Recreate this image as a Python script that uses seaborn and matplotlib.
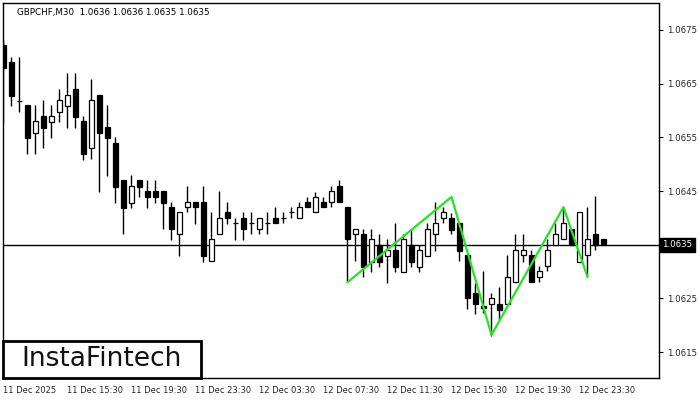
import matplotlib
matplotlib.use("Agg")
import matplotlib.pyplot as plt
import matplotlib.transforms as mtransforms
from matplotlib.patches import Rectangle
import numpy as np
import pandas as pd
import seaborn as sns

# GBPCHF M30 bars (oldest first)
opens = [1.06722, 1.06690, 1.06618, 1.06610, 1.06558, 1.06590, 1.06579, 1.06597,
         1.06608, 1.06640, 1.06580, 1.06530, 1.06629, 1.06569, 1.06539, 1.06470,
         1.06428, 1.06470, 1.06450, 1.06450, 1.06450, 1.06420, 1.06370, 1.06420,
         1.06430, 1.06430, 1.06320, 1.06370, 1.06411, 1.06390, 1.06400, 1.06390,
         1.06379, 1.06390, 1.06400, 1.06400, 1.06411, 1.06400, 1.06430, 1.06411,
         1.06430, 1.06430, 1.06459, 1.06420, 1.06370, 1.06370, 1.06318, 1.06349,
         1.06329, 1.06340, 1.06299, 1.06349, 1.06308, 1.06329, 1.06370, 1.06400,
         1.06400, 1.06390, 1.06331, 1.06260, 1.06235, 1.06239, 1.06239, 1.06239,
         1.06280, 1.06331, 1.06331, 1.06290, 1.06310, 1.06349, 1.06361, 1.06379,
         1.06318, 1.06331, 1.06370, 1.06361]
highs = [1.06731, 1.06700, 1.06700, 1.06610, 1.06610, 1.06620, 1.06610, 1.06640,
         1.06670, 1.06670, 1.06590, 1.06659, 1.06629, 1.06610, 1.06551, 1.06470,
         1.06480, 1.06470, 1.06470, 1.06470, 1.06450, 1.06430, 1.06411, 1.06459,
         1.06430, 1.06459, 1.06411, 1.06450, 1.06430, 1.06400, 1.06411, 1.06411,
         1.06400, 1.06411, 1.06420, 1.06411, 1.06420, 1.06430, 1.06439, 1.06448,
         1.06439, 1.06459, 1.06470, 1.06420, 1.06379, 1.06379, 1.06379, 1.06370,
         1.06361, 1.06390, 1.06370, 1.06379, 1.06349, 1.06390, 1.06430, 1.06420,
         1.06409, 1.06390, 1.06331, 1.06279, 1.06301, 1.06260, 1.06271, 1.06331,
         1.06370, 1.06370, 1.06340, 1.06310, 1.06361, 1.06390, 1.06420, 1.06379,
         1.06411, 1.06420, 1.06441, 1.06361]
lows = [1.06579, 1.06608, 1.06597, 1.06519, 1.06519, 1.06530, 1.06549, 1.06579,
        1.06567, 1.06567, 1.06508, 1.06510, 1.06448, 1.06478, 1.06428, 1.06370,
        1.06418, 1.06439, 1.06418, 1.06428, 1.06379, 1.06359, 1.06329, 1.06411,
        1.06388, 1.06318, 1.06320, 1.06370, 1.06388, 1.06359, 1.06359, 1.06370,
        1.06370, 1.06370, 1.06390, 1.06390, 1.06400, 1.06400, 1.06420, 1.06411,
        1.06420, 1.06420, 1.06430, 1.06280, 1.06320, 1.06290, 1.06299, 1.06308,
        1.06279, 1.06299, 1.06299, 1.06308, 1.06299, 1.06329, 1.06338, 1.06390,
        1.06370, 1.06320, 1.06230, 1.06221, 1.06223, 1.06180, 1.06210, 1.06239,
        1.06280, 1.06318, 1.06280, 1.06280, 1.06301, 1.06349, 1.06361, 1.06349,
        1.06318, 1.06290, 1.06340, 1.06349]
closes = [1.06679, 1.06627, 1.06618, 1.06549, 1.06580, 1.06567, 1.06590, 1.06620,
          1.06629, 1.06588, 1.06519, 1.06620, 1.06558, 1.06549, 1.06457, 1.06418,
          1.06459, 1.06457, 1.06439, 1.06439, 1.06428, 1.06379, 1.06411, 1.06430,
          1.06420, 1.06329, 1.06361, 1.06400, 1.06400, 1.06390, 1.06379, 1.06390,
          1.06400, 1.06390, 1.06390, 1.06400, 1.06411, 1.06420, 1.06420, 1.06439,
          1.06420, 1.06450, 1.06430, 1.06361, 1.06379, 1.06308, 1.06361, 1.06318,
          1.06340, 1.06308, 1.06361, 1.06318, 1.06340, 1.06379, 1.06390, 1.06411,
          1.06377, 1.06338, 1.06251, 1.06239, 1.06232, 1.06251, 1.06228, 1.06290,
          1.06340, 1.06340, 1.06280, 1.06301, 1.06340, 1.06370, 1.06390, 1.06349,
          1.06411, 1.06361, 1.06349, 1.06350]

# time axis labels (every 8th bar)
tick_bars = [0, 8, 16, 24, 32, 40, 48, 56, 64, 72]
tick_labels = ["11 Dec 2025", "11 Dec 15:30", "11 Dec 19:30", "11 Dec 23:30",
               "12 Dec 03:30", "12 Dec 07:30", "12 Dec 11:30", "12 Dec 15:30",
               "12 Dec 19:30", "12 Dec 23:30"]
price_ticks = [1.0615, 1.0625, 1.0635, 1.0645, 1.0655, 1.0665, 1.0675]

# green pattern (triple top) pivots
pattern_bars = [43, 56, 61, 70, 73]
pattern_prices = [1.06280, 1.06439, 1.06182, 1.06420, 1.06290]

last_price = 1.0635
title_text = "GBPCHF,M30  1.0636 1.0636 1.0635 1.0635"

df = pd.DataFrame({"open": opens, "high": highs, "low": lows, "close": closes})
df["bar"] = np.arange(len(df))
pat = pd.DataFrame({"bar": pattern_bars, "price": pattern_prices})

sns.set_style("white")
plt.rcParams["font.family"] = ["DejaVu Sans"]

fig = plt.figure(figsize=(7, 4), dpi=100)
ax = fig.add_axes([3 / 700, 22 / 400, 656 / 700, 375 / 400])

up = df[df.close >= df.open]
down = df[df.close < df.open]

ax.vlines(df.bar, df.low, df.high, color="black", lw=1, zorder=2)
body_w = 0.55
ax.bar(up.bar, np.maximum(up.close - up.open, 0.000002), bottom=up.open,
       width=body_w, color="white", edgecolor="black", lw=0.9, zorder=3)
ax.bar(down.bar, down.open - down.close, bottom=down.close,
       width=body_w, color="black", edgecolor="black", lw=0.9, zorder=3)

ax.axhline(last_price, color="black", lw=1, zorder=1)

sns.lineplot(data=pat, x="bar", y="price", ax=ax, color="#22e622", lw=1.6,
             zorder=4, sort=False)

ax.set_xlim(-0.06, 81.94)
ax.set_ylim(1.061016, 1.068003)
ax.set_xlabel("")
ax.set_ylabel("")

ax.set_xticks(tick_bars)
ax.set_xticklabels(tick_labels, fontsize=6, ha="left")
ax.yaxis.tick_right()
ax.set_yticks(price_ticks)
ax.set_yticklabels(["" if p == last_price else f"{p:.4f}" for p in price_ticks],
                   fontsize=6.2)
ax.tick_params(axis="both", direction="out", length=3, width=0.8, color="black",
               pad=2.5)
for s in ax.spines.values():
    s.set_color("black")
    s.set_linewidth(1)

# price tag on the right axis
trans = mtransforms.blended_transform_factory(ax.transAxes, ax.transData)
ax.text(1.005, last_price, f"{last_price:.4f}", transform=trans, fontsize=6.2,
        color="white", va="center", ha="left",
        bbox=dict(boxstyle="square,pad=0.3", fc="black", ec="black"))

ax.text(0.022, 0.988, title_text, transform=ax.transAxes, fontsize=6.3,
        va="top", ha="left", color="black")

# logo box
fig.patches.append(Rectangle((3 / 700, 22 / 400), 198 / 700, 37 / 400,
                             transform=fig.transFigure, fc="white", ec="black",
                             lw=2, zorder=10))
fig.text(102 / 700, 41 / 400, "InstaFintech", fontsize=19, ha="center",
         va="center", color="#111111", zorder=11)

fig.savefig("out.png", dpi=100)
